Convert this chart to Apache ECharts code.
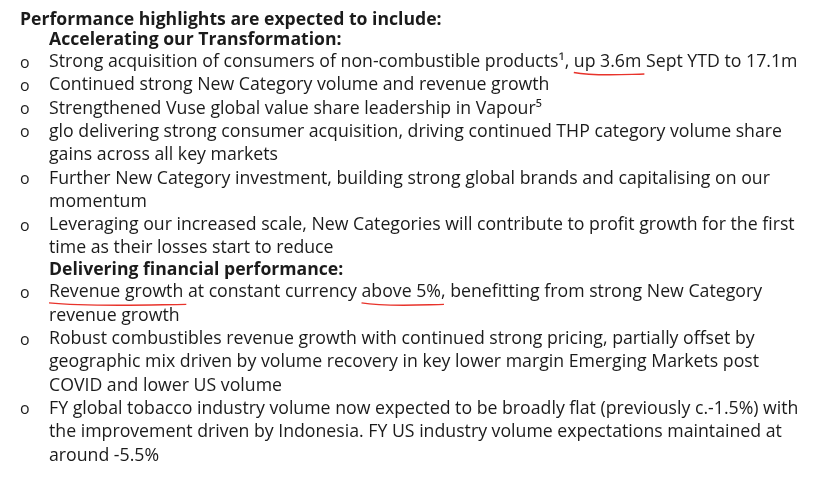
<!DOCTYPE html>
<html>
<head>
<meta charset="utf-8">
<title>Performance highlights</title>
<script src="https://cdn.jsdelivr.net/npm/echarts@6/dist/echarts.min.js"></script>
<style>
  html, body { margin: 0; padding: 0; background: #fff; }
  #chart { width: 815px; height: 480px; }
</style>
</head>
<body>
<div id="chart"></div>
<script>
// text rows: kind is title / heading / bullet / cont (continuation of a bullet)
var rowKinds = [
  'title', 'heading',
  'bullet', 'bullet', 'bullet', 'bullet', 'cont', 'bullet', 'cont', 'bullet', 'cont',
  'heading',
  'bullet', 'cont', 'bullet', 'cont', 'cont', 'bullet', 'cont', 'cont'
];
var rowTexts = [
  'Performance highlights are expected to include:',
  'Accelerating our Transformation:',
  'Strong acquisition of consumers of non-combustible products\u00b9, up 3.6m Sept YTD to 17.1m',
  'Continued strong New Category volume and revenue growth',
  'Strengthened Vuse global value share leadership in Vapour\u2075',
  'glo delivering strong consumer acquisition, driving continued THP category volume share',
  'gains across all key markets',
  'Further New Category investment, building strong global brands and capitalising on our',
  'momentum',
  'Leveraging our increased scale, New Categories will contribute to profit growth for the first',
  'time as their losses start to reduce',
  'Delivering financial performance:',
  'Revenue growth at constant currency above 5%, benefitting from strong New Category',
  'revenue growth',
  'Robust combustibles revenue growth with continued strong pricing, partially offset by',
  'geographic mix driven by volume recovery in key lower margin Emerging Markets post',
  'COVID and lower US volume',
  'FY global tobacco industry volume now expected to be broadly flat (previously c.-1.5%) with',
  'the improvement driven by Indonesia. FY US industry volume expectations maintained at',
  'around -5.5%'
];
// red hand-drawn underlines: [row index, underlined phrase]
var markRows = [2, 12, 12];
var markWords = ['up 3.6m', 'Revenue growth', 'above 5%'];

var FONT = '"Open Sans", "DejaVu Sans", sans-serif';
var INK = '#1b1b1b';

var ctx = document.createElement('canvas').getContext('2d');
function measure(txt, size, bold) {
  ctx.font = (bold ? 'bold ' : '') + size + 'px ' + FONT;
  return ctx.measureText(txt).width;
}

// fit body and heading fonts to the reference line lengths
var bodySize = 16 * 749 / measure(rowTexts[2], 16, false);
var boldSize = 16 * 422 / measure(rowTexts[0], 16, true);

var chart = echarts.init(document.getElementById('chart'));
var elements = [];
var rowY = [];
var y = 19.5;
rowKinds.forEach(function (kind, i) {
  if (i > 0) {
    var prev = rowKinds[i - 1];
    if (kind === 'heading') y += (prev === 'title') ? 20.5 : 22;
    else if (prev === 'heading') y += 22;
    else y += 23.3;
  }
  rowY.push(y);
  var bold = kind === 'title' || kind === 'heading';
  var x = kind === 'title' ? 20 : 49;
  elements.push({
    type: 'text',
    x: x,
    y: y,
    style: {
      text: rowTexts[i],
      font: (bold ? 'bold ' : '') + (bold ? boldSize : bodySize).toFixed(2) + 'px ' + FONT,
      fill: INK,
      verticalAlign: 'middle'
    }
  });
  if (kind === 'bullet') {
    elements.push({
      type: 'text',
      x: 20,
      y: y + 1,
      style: {
        text: 'o',
        font: (bodySize * 0.9).toFixed(2) + 'px ' + FONT,
        fill: INK,
        verticalAlign: 'middle'
      }
    });
  }
});

markWords.forEach(function (word, k) {
  var row = markRows[k];
  var txt = rowTexts[row];
  var start = 49 + measure(txt.slice(0, txt.indexOf(word)), bodySize, false);
  var w = measure(word, bodySize, false) + 3;
  var yy = rowY[row] + 10.5;
  elements.push({
    type: 'bezierCurve',
    shape: {
      x1: start, y1: yy,
      cpx1: start + w * 0.3, cpy1: yy + 4,
      cpx2: start + w * 0.7, cpy2: yy + 2,
      x2: start + w, y2: yy + 1.5
    },
    style: { stroke: '#e8332b', lineWidth: 1.4, fill: null }
  });
});

chart.setOption({
  backgroundColor: '#ffffff',
  animation: false,
  graphic: { elements: elements }
});

window.addEventListener('resize', function () {
  chart.resize();
});
</script>
</body>
</html>
